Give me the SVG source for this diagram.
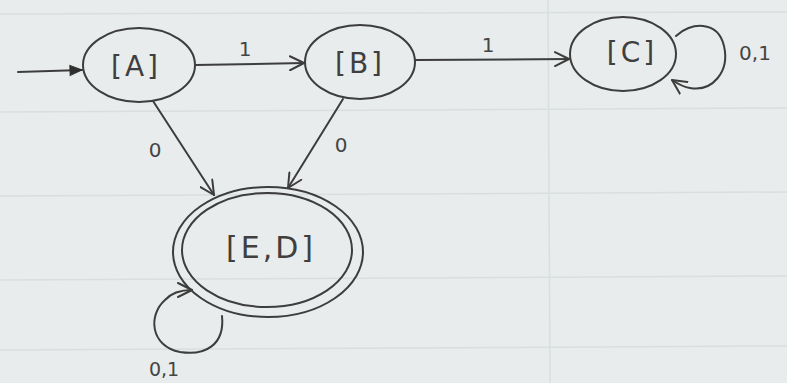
<svg xmlns="http://www.w3.org/2000/svg" width="787" height="383" viewBox="0 0 787 383">
  <defs>
    <marker id="open" viewBox="0 0 16 16" refX="15" refY="8" markerWidth="16" markerHeight="16" markerUnits="userSpaceOnUse" orient="auto">
      <path d="M1,1 L15,8 L1,15" fill="none" stroke="#3d3d3d" stroke-width="2" stroke-linecap="round" stroke-linejoin="round"/>
    </marker>
    <marker id="solid" viewBox="0 0 14 14" refX="13" refY="7" markerWidth="14" markerHeight="14" markerUnits="userSpaceOnUse" orient="auto">
      <path d="M1,2 L13,7 L1,12 Z" fill="#2f2f2f" stroke="#2f2f2f" stroke-width="1"/>
    </marker>
  </defs>
  <style>
    .paper { fill: #e9ecec; }
    .rule { stroke: #d9dedf; stroke-width: 1.5; }
    .state { fill: none; stroke: #3d3d3d; stroke-width: 2; }
    .edge { fill: none; stroke: #3d3d3d; stroke-width: 2; stroke-linecap: round; }
    .name { font-family: "DejaVu Sans", sans-serif; font-size: 28px; fill: #3f3f3f; text-anchor: middle; letter-spacing: 3px; }
    .lbl { font-family: "DejaVu Sans", sans-serif; font-size: 20px; fill: #444; text-anchor: middle; }
  </style>

  <!-- paper with faint ruling -->
  <rect class="paper" x="0" y="0" width="787" height="383"/>
  <g id="ruling">
    <line class="rule" x1="0" y1="14" x2="787" y2="12"/>
    <line class="rule" x1="0" y1="112" x2="787" y2="108"/>
    <line class="rule" x1="0" y1="196" x2="787" y2="192"/>
    <line class="rule" x1="0" y1="280" x2="787" y2="276"/>
    <line class="rule" x1="0" y1="350" x2="787" y2="346"/>
    <line class="rule" x1="548" y1="0" x2="550" y2="383"/>
  </g>

  <!-- transitions -->
  <g id="connectors">
    <line class="edge" x1="18" y1="72" x2="82" y2="70" marker-end="url(#solid)"/>
    <line class="edge" x1="195" y1="65" x2="304" y2="63" marker-end="url(#open)"/>
    <line class="edge" x1="416" y1="60" x2="569" y2="59" marker-end="url(#open)"/>
    <line class="edge" x1="153" y1="101" x2="214" y2="195" marker-end="url(#open)"/>
    <line class="edge" x1="343" y1="99" x2="288" y2="188" marker-end="url(#open)"/>
    <path class="edge" d="M676,36 C690,22 718,20 724,46 C730,72 712,92 690,88 C683,87 678,84 672,80" marker-end="url(#open)"/>
    <path class="edge" d="M222,316 C225,345 205,356 180,352 C150,346 148,315 165,300 C172,292 182,290 192,290" marker-end="url(#open)"/>
    <text class="lbl" x="245" y="56">1</text>
    <text class="lbl" x="488" y="52">1</text>
    <text class="lbl" x="155" y="157">0</text>
    <text class="lbl" x="341" y="152">0</text>
    <text class="lbl" x="755" y="60">0,1</text>
    <text class="lbl" x="164" y="376" style="font-size:19px">0,1</text>
  </g>

  <g id="A">
    <ellipse class="state" cx="139" cy="65" rx="56" ry="37"/>
    <text class="name" x="136" y="76">[A]</text>
  </g>
  <g id="B">
    <ellipse class="state" cx="360" cy="62" rx="55" ry="37"/>
    <text class="name" x="360" y="73">[B]</text>
  </g>
  <g id="C">
    <ellipse class="state" cx="623" cy="54" rx="53" ry="37"/>
    <text class="name" x="632" y="62">[C]</text>
  </g>
  <g id="ED">
    <ellipse class="state" cx="268" cy="252" rx="95" ry="65"/>
    <ellipse class="state" cx="267" cy="250" rx="85" ry="57"/>
    <text class="name" x="271" y="258" style="font-size:30px">[E,D]</text>
  </g>
</svg>
